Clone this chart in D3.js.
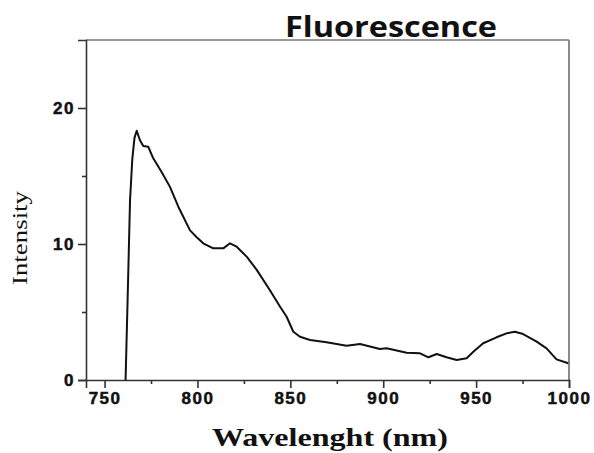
<!DOCTYPE html>
<html>
<head>
<meta charset="utf-8">
<script src="https://cdn.jsdelivr.net/npm/d3@7"></script>
<style>
  html, body { margin: 0; padding: 0; background: #fff; }
  svg { display: block; }
</style>
</head>
<body>
<svg id="chart" width="594" height="453"></svg>
<script>
// ---- data ----
const wavelength = [761.3, 762.4, 763.7, 764.9, 766.1, 767.3, 769.0, 770.8, 773.5, 776.2,
  780.7, 785.2, 789.7, 796.0, 799.6, 803.1, 808.5, 813.9, 817.5, 821.1,
  826.5, 831.9, 839.0, 844.4, 848.0, 851.6, 855.2, 860.6, 869.5, 880.3,
  887.5, 898.2, 901.8, 912.6, 919.8, 924.3, 928.8, 934.1, 939.5, 944.9,
  948.5, 953.8, 961.0, 966.4, 970.9, 975.3, 982.6, 987.9, 993.3, 999.6];
const intensity = [0.0, 5.9, 13.2, 16.2, 17.8, 18.33, 17.65, 17.2, 17.15, 16.3,
  15.3, 14.2, 12.74, 11.0, 10.5, 10.05, 9.68, 9.68, 10.05, 9.8,
  9.07, 8.1, 6.6, 5.4, 4.65, 3.55, 3.18, 2.94, 2.77, 2.52,
  2.65, 2.28, 2.33, 2.0, 1.96, 1.67, 1.91, 1.67, 1.47, 1.6,
  2.08, 2.7, 3.14, 3.43, 3.55, 3.38, 2.82, 2.33, 1.52, 1.23];
const xMajorTicks = [750, 800, 850, 900, 950, 1000];
const xMinorTicks = [775, 825, 875, 925, 975];
const yMajorTicks = [0, 10, 20];
const yMinorTicks = [5, 15];
const titleText = "Fluorescence";
const xTitle = "Wavelenght (nm)";
const yTitle = "Intensity";

// ---- layout ----
const svg = d3.select("#chart");
const L = 86, R = 569, T = 40, B = 380;

const x = d3.scaleLinear().domain([740, 1000]).range([L, R]);
const y = d3.scaleLinear().domain([0, 25]).range([B, T]);

// frame (top & right, light gray)
svg.append("line").attr("x1", L).attr("x2", R).attr("y1", T).attr("y2", T)
  .attr("stroke", "#9a9a9a").attr("stroke-width", 2);
svg.append("line").attr("x1", R).attr("x2", R).attr("y1", T).attr("y2", B)
  .attr("stroke", "#8a8a8a").attr("stroke-width", 2);

// x axis
const gx = svg.append("g").attr("transform", `translate(0,${B})`);
gx.call(d3.axisBottom(x).tickValues(xMajorTicks).tickSize(8).tickPadding(4).tickFormat(d3.format("d")));
const gxm = svg.append("g").attr("transform", `translate(0,${B})`);
gxm.call(d3.axisBottom(x).tickValues(xMinorTicks).tickSize(4).tickFormat(""));
gxm.select(".domain").remove();

// y axis
const gy = svg.append("g").attr("transform", `translate(${L},0)`);
gy.call(d3.axisLeft(y).tickValues(yMajorTicks).tickSize(8).tickPadding(3).tickFormat(d3.format("d")));
const gym = svg.append("g").attr("transform", `translate(${L},0)`);
gym.call(d3.axisLeft(y).tickValues(yMinorTicks).tickSize(4).tickFormat(""));
gym.select(".domain").remove();

svg.selectAll(".domain").attr("stroke", "#333").attr("stroke-width", 1.6);
svg.selectAll(".tick line").attr("stroke", "#333").attr("stroke-width", 1.6);
svg.selectAll(".tick text")
  .attr("font-family", "'Liberation Sans', Arial, sans-serif")
  .attr("font-weight", "bold")
  .attr("font-size", 17)
  .attr("fill", "#111")
  .attr("stroke", "#111")
  .attr("stroke-width", 0.5)
  .style("letter-spacing", "1.5px");

// curve
const pts = wavelength.map((w, i) => [w, intensity[i]]);
svg.append("path")
  .datum(pts)
  .attr("fill", "none")
  .attr("stroke", "#111")
  .attr("stroke-width", 2)
  .attr("stroke-linejoin", "round")
  .attr("d", d3.line().x(d => x(d[0])).y(d => y(d[1])));

// titles
svg.append("text")
  .attr("x", 391).attr("y", 37)
  .attr("text-anchor", "middle")
  .attr("font-family", "'Open Sans', 'Liberation Sans', sans-serif")
  .attr("font-weight", "bold")
  .attr("font-size", 28)
  .attr("fill", "#111")
  .attr("textLength", 212)
  .attr("lengthAdjust", "spacingAndGlyphs")
  .text(titleText);

svg.append("text")
  .attr("x", 330).attr("y", 446)
  .attr("text-anchor", "middle")
  .attr("font-family", "'Liberation Serif', 'Times New Roman', serif")
  .attr("font-weight", "bold")
  .attr("font-size", 26)
  .attr("fill", "#111")
  .attr("textLength", 236)
  .attr("lengthAdjust", "spacingAndGlyphs")
  .text(xTitle);

svg.append("text")
  .attr("transform", "translate(27,238) rotate(-90)")
  .attr("text-anchor", "middle")
  .attr("font-family", "'Liberation Serif', 'Times New Roman', serif")
  .attr("font-size", 21)
  .attr("fill", "#111")
  .attr("textLength", 94)
  .attr("lengthAdjust", "spacingAndGlyphs")
  .text(yTitle);
</script>
</body>
</html>
